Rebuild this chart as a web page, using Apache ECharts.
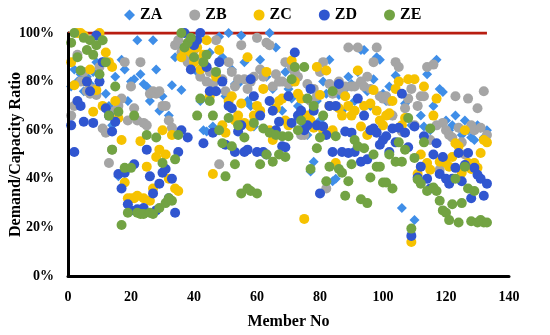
<!DOCTYPE html>
<html>
<head>
<meta charset="utf-8">
<script src="https://cdn.jsdelivr.net/npm/echarts@6/dist/echarts.min.js"></script>
<style>html,body{margin:0;padding:0;background:#fff}#c{width:550px;height:335px}</style>
</head>
<body>
<div id="c"></div>
<script>
const seriesNames = ['ZA','ZB','ZC','ZD','ZE'];
const xTicks = [0,20,40,60,80,100,120,140];
const yTicks = [0,20,40,60,80,100];
const limitValue = 100;
const limitEndMember = 133;

const ZA = [78,85,80,83,76,82,79,84,88,80, 88,75,70,62,82,41,89,85,72,80, 81,97,83,79,78,72,97,85,68,74,
 70,66,78.5,90,95,76.5,92,88,98,95, 84,72,60,59.5,92,61.5,80,98.5,90,74, 100,85,79,79,99,88,72,70,61.5,98,
 89,77,82,100,77,94,80,68,84,77, 73,86,70,66,62,58,43,47,72,64, 80,75,89,39,40,74.5,68,77,82,79,
 72,84,93,93,76,70,81,90,89,75, 72,78,66,82.5,80,28,71,65,62,23, 70,66,61.5,83,60,70,89,77,75.7,64,
 60,62,66,61,58,64,60,57,56,62, 61,57,60];
const ZB = [66,70,91,80,84,76,75,77,74.5,86, 60.7,59,46.5,52,68,70,73,88,64,78, 69,64,88,63,62,75,76,75,76,70,
 70,64,61,95,97,92,90,88,96,93, 89,82,86,80,84,79,97,46,81,76, 88,84,78,81,95,81,77,80,82,98,
 85,82,96,95,78,83,80,80,88,79, 86,84,82,58,58,79,72,77,74,84, 88,36,79,75,77,80,76,78,94,78,
 78,94,80,78,82,77,88,94,74,73, 74,72,66,88,86,59.5,69,73,77,62, 70,74,74,86,56,87,62,43.7,63,60,
 58,57,74,61,55,50,73,62,60,69, 61,76,58];
const ZC = [88,78.5,100,100,99,80,85,67.6,76.5,100, 70,92,88,86,72,65,56,38.5,32,32, 32,33,55.5,32,45,31,36,49,52,60,
 50,40,58,36,35,90,93,95,92,88, 94,85,91,97,74,42,82,93,62,59, 72,74,64,66,71,63,90,61.5,66,70,
 68,77,84,60,56,69,72,73,64,62, 88.7,80,75,73,23.5,66,64,61,86,74.5, 60,84.6,70,60,46.5,69,66,74,70,66,
 68,84.6,61.5,70,58,71,76.5,68,64,62, 66,67,72,77,80,62,65,81,14,81, 42,50,78,46.5,43.7,66,73,47,48.6,46.5,
 45,49,54.6,53.4,42.5,60,46.5,44,46.5,44.5, 50.6,56,55];
const ZD = [62,51,72,70,63.5,80,76,63,99,80, 88,69,66,59.5,63.5,42,36,42.5,29.5,27, 46,27.5,27,28,52,41,34,27,38,42.5,
 44,32,40,26,51,60,100,57,85,95, 97,100,54.6,86,76,59,76,88,80,54, 70,69,51,59.5,62,51,52,81,74,51,
 66,51,50,72,68,60,63.5,53.4,53,74, 63,92,66,68,60,62,77,68,62,34, 61.5,58,70,51,70,79,51,59.5,50.6,59,
 51,73,47,66,48,60,60.7,59,54,56, 57.5,51,60.7,55,61,75,59,53,16.5,61.5, 40.5,45,57.5,40,36,50,54.6,42,49,40,
 38,40,44.5,50.6,39,45.7,50.6,32,44.5,41.7, 40,33,38];
const ZE = [96,100,90,84.6,98,93,97,91,95,83, 97,88,66,52,78,67.6,21,44.5,26,44.5, 66,26,25.5,25.5,58,26,25.5,57,28,46.5,
 30,32,31,48,58,100,94,96,98,90, 66,73,88,91,72,66,84,60,54.6,41, 65,53.4,46,62,34,57,36,35,63,34,
 46,60.7,50,59,47,58,50,57.5,49,57.5, 81,86,60,64,86,73,44,70,52.6,57, 66,39,45,76,57.5,44,42.5,33,39,46,
 56,53.4,31.6,52.6,30,40.5,50,45,45,38.5, 38.5,50,36,47,55,47,52,65,19.5,48.6, 39.7,38,55,35,60.7,36.4,35,31,27,26,
 23,29.5,40,22,30,45,36,22.5,35,22, 23,22,22];

const colors = {ZA:'#3f8ee8', ZB:'#a5a5a5', ZC:'#f6c200', ZD:'#3056d0', ZE:'#72a343'};
const values = {ZA, ZB, ZC, ZD, ZE};

const font = 'Liberation Serif';
const series = seriesNames.map(n => ({
  name: n,
  type: 'scatter',
  symbol: n === 'ZA' ? 'diamond' : 'circle',
  symbolSize: 10,
  clip: false,
  z: 3,
  itemStyle: {color: colors[n], opacity: 1},
  data: values[n].map((v, i) => [i + 1, v])
}));
series.unshift({
  name: 'limit',
  type: 'line',
  symbol: 'none',
  silent: true,
  z: 1,
  lineStyle: {color: '#b81d10', width: 3},
  data: [[0, limitValue], [limitEndMember, limitValue]],
  markLine: {
    silent: true,
    symbol: 'none',
    label: {show: false},
    lineStyle: {color: '#000000', width: 3, type: 'solid'},
    data: [{xAxis: xTicks[0]}, {yAxis: yTicks[0]}]
  }
});

const chart = echarts.init(document.getElementById('c'));
chart.setOption({
  animation: false,
  color: seriesNames.map(n => colors[n]),
  legend: {
    data: seriesNames.map(n => ({name: n, icon: n === 'ZA' ? 'diamond' : 'circle'})),
    top: 2, left: 119,
    itemWidth: 11, itemHeight: 11, itemGap: 27,
    textStyle: {fontFamily: font, fontWeight: 'bold', fontSize: 16, color: '#000'}
  },
  grid: {left: 64, right: 41, top: 33, bottom: 55, containLabel: false},
  xAxis: {
    type: 'value', min: xTicks[0], max: xTicks[xTicks.length - 1], interval: 20,
    name: 'Member No', nameLocation: 'middle', nameGap: 38, nameMoveOverlap: false,
    nameTextStyle: {fontFamily: font, fontWeight: 'bold', fontSize: 16, color: '#000'},
    axisLine: {show: true, onZero: false, lineStyle: {color: '#000', width: 3}},
    axisTick: {show: false},
    splitLine: {show: false},
    axisLabel: {fontFamily: font, fontWeight: 'bold', fontSize: 14, color: '#000', margin: 14}
  },
  yAxis: {
    type: 'value', min: yTicks[0], max: yTicks[yTicks.length - 1], interval: 20,
    name: 'Demand/Capacity Ratio', nameLocation: 'middle', nameGap: 44, nameMoveOverlap: false,
    nameTextStyle: {fontFamily: font, fontWeight: 'bold', fontSize: 16, color: '#000'},
    axisLine: {show: true, onZero: false, lineStyle: {color: '#000', width: 3}},
    axisTick: {show: false},
    splitLine: {show: false},
    axisLabel: {fontFamily: font, fontWeight: 'bold', fontSize: 14, color: '#000', margin: 14, formatter: '{value}%'}
  },
  series
});
</script>
</body>
</html>
